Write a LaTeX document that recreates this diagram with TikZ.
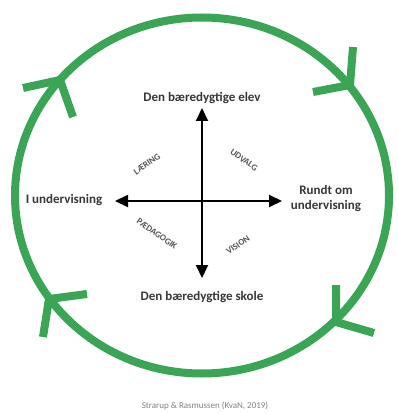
\documentclass[tikz,border=0pt]{standalone}
\usepackage{fontspec}
\setmainfont{Carlito}
\usetikzlibrary{arrows.meta}
\definecolor{ringgreen}{RGB}{58,166,85}
\definecolor{labelgray}{RGB}{55,55,55}
\definecolor{diaggray}{RGB}{85,85,85}
\definecolor{capgray}{RGB}{130,130,130}
\tikzset{
  ring/.style={draw=ringgreen, line width=8pt},
  barb/.style={draw=ringgreen, line width=8pt, line join=round},
  axis/.style={draw=black, line width=2pt, -{Triangle[length=13pt,width=12pt]}},
  mainlabel/.style={font=\fontsize{13}{15}\selectfont\bfseries, text=labelgray, align=center, inner sep=1pt},
  diaglabel/.style={font=\fontsize{9}{10}\selectfont\bfseries, text=diaggray, inner sep=0pt},
  caption/.style={font=\fontsize{9}{10}\selectfont, text=capgray, inner sep=0pt}
}
\begin{document}
\begin{tikzpicture}[x=1pt,y=-1pt]
\useasboundingbox (0,0) rectangle (397,414);
\fill[white] (0,0) rectangle (397,414);
% ring
\draw[ring] (202,195.5) ellipse [x radius=187pt, y radius=178pt];
% arrowheads on ring (clockwise)
\coordinate (trTip) at (350,85);
\coordinate (trA) at (353,47);
\coordinate (trB) at (313,92);
\coordinate (tlTip) at (60,80);
\coordinate (tlA) at (23,88);
\coordinate (tlB) at (73,117);
\coordinate (brTip) at (336,322);
\coordinate (brA) at (336,285);
\coordinate (brB) at (374,333);
\coordinate (blTip) at (49,299);
\coordinate (blA) at (87,294);
\coordinate (blB) at (43,337);
\draw[barb] (trA) -- (trTip) -- (trB);
\draw[barb] (tlA) -- (tlTip) -- (tlB);
\draw[barb] (brA) -- (brTip) -- (brB);
\draw[barb] (blA) -- (blTip) -- (blB);
% cross
\coordinate (c) at (202,201);
\coordinate (tN) at (202,108);
\coordinate (tS) at (202,278);
\coordinate (tW) at (115,201);
\coordinate (tE) at (282,201);
\draw[axis] (c) -- (tN);
\draw[axis] (c) -- (tS);
\draw[axis] (c) -- (tW);
\draw[axis] (c) -- (tE);
% labels
\node[mainlabel] (elev) at (202,98) {Den bæredygtige elev};
\node[mainlabel] (skole) at (202,297) {Den bæredygtige skole};
\node[mainlabel] (iund) at (64,200) {I undervisning};
\node[mainlabel] (rundt) at (326,199) {Rundt om\\undervisning};
\node[diaglabel, rotate=35] (laering) at (147,164) {LÆRING};
\node[diaglabel, rotate=-35] (udvalg) at (244,160) {UDVALG};
\node[diaglabel, rotate=-35] (paed) at (157,234) {PÆDAGOGIK};
\node[diaglabel, rotate=35] (vision) at (238,245) {VISION};
\node[caption] (cap) at (205,406) {Strarup \& Rasmussen (KvaN, 2019)};
\end{tikzpicture}
\end{document}
